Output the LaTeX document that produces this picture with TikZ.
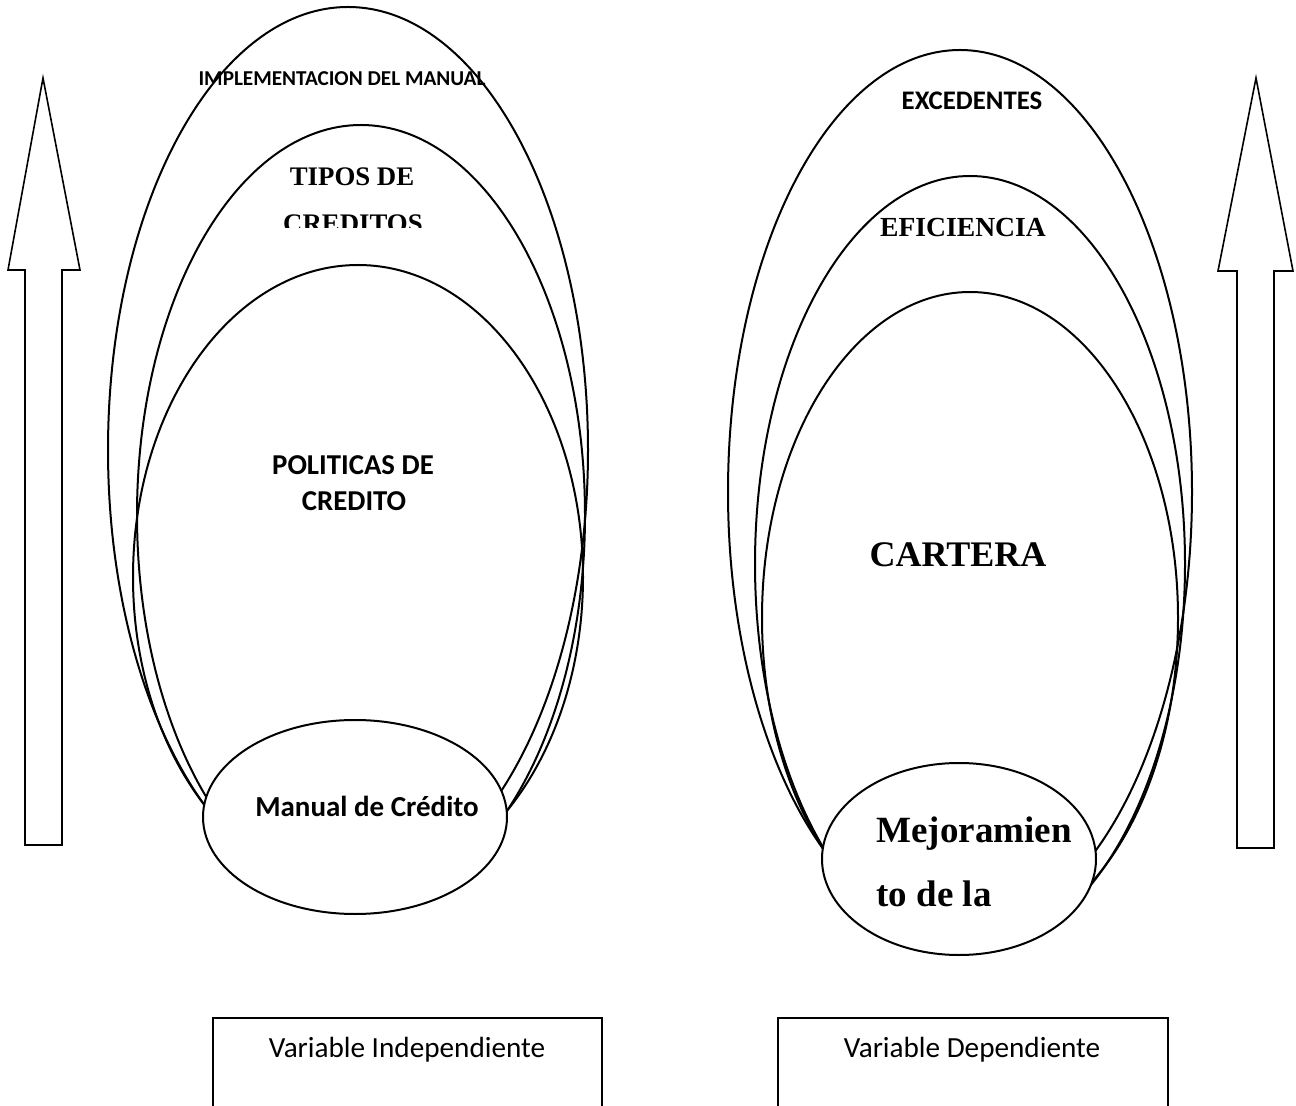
\documentclass[tikz,border=0pt]{standalone}
\usepackage{fontspec}
\setmainfont{Liberation Serif}
\newfontfamily\carl{Carlito}
\usetikzlibrary{shapes.geometric}
\begin{document}
\begin{tikzpicture}[x=0.5pt,y=-0.5pt,
  oval/.style={draw=black, line width=1pt, ellipse, inner sep=0pt, outer sep=0pt},
  core/.style={oval, fill=white},
  bigarrow/.style={draw=black, line width=0.8pt, fill=white, line join=miter},
  varbox/.style={draw=black, line width=0.9pt, rectangle, inner sep=0pt, fill=white},
  sanslbl/.style={font=\carl\bfseries, anchor=base, inner sep=0pt},
  seriflbl/.style={font=\bfseries, anchor=base, inner sep=0pt}
]
\useasboundingbox (0,0) rectangle (1296,1106);
\clip (0,0) rectangle (1296,1106);

% left arrow
\draw[bigarrow] (43,78) -- (80,270) -- (62,270) -- (62,845) -- (25,845) -- (25,270) -- (8,270) -- cycle;
% right arrow
\draw[bigarrow] (1256,78) -- (1293,271) -- (1274,271) -- (1274,848) -- (1237,848) -- (1237,271) -- (1218,271) -- cycle;

% left ellipses
\node[oval, minimum width=240pt, minimum height=443pt] (impl) at (348,450) {};
\node[oval, minimum width=224pt, minimum height=390pt] (tipos) at (361,515) {};
\node[oval, minimum width=225pt, minimum height=312pt] (pol) at (358,577) {};
\node[core, minimum width=152pt, minimum height=97pt] (manual) at (355,817) {};

% right ellipses
\node[oval, minimum width=232pt, minimum height=442pt] (exc) at (960,492) {};
\node[oval, minimum width=215pt, minimum height=388pt] (efi) at (970,564) {};
\node[oval, minimum width=208pt, minimum height=326pt] (cart) at (970,618) {};
\node[core, minimum width=137pt, minimum height=96pt] (mejor) at (959,859) {};

% left labels
\node[sanslbl, font=\carl\bfseries\fontsize{10.6}{12}\selectfont] (timpl) at (342,86) {IMPLEMENTACION DEL MANUAL};
\node[seriflbl, font=\bfseries\fontsize{13.4}{16}\selectfont] (ttipos1) at (352,186) {TIPOS DE};
\begin{scope}
\clip (0,0) rectangle (1296,228);
\node[seriflbl, font=\bfseries\fontsize{13.4}{16}\selectfont] (ttipos2) at (353,233) {CREDITOS};
\end{scope}
\node[sanslbl, font=\carl\bfseries\fontsize{14.4}{16}\selectfont] (tpol1) at (353,475) {POLITICAS DE};
\node[sanslbl, font=\carl\bfseries\fontsize{14.4}{16}\selectfont] (tpol2) at (354,511) {CREDITO};
\node[sanslbl, font=\carl\bfseries\fontsize{14.5}{17}\selectfont] (tman) at (367,816) {Manual de Crédito};

% right labels
\node[sanslbl, font=\carl\bfseries\fontsize{13.4}{15}\selectfont] (texc) at (972,110) {EXCEDENTES};
\node[seriflbl, font=\bfseries\fontsize{13.8}{16}\selectfont] (tefi) at (963,237) {EFICIENCIA};
\node[seriflbl, font=\bfseries\fontsize{18}{21}\selectfont] (tcart) at (958,567) {CARTERA};
\node[seriflbl, font=\bfseries\fontsize{18.5}{22}\selectfont, anchor=base west] (tmej1) at (876,842) {Mejoramien};
\node[seriflbl, font=\bfseries\fontsize{18.5}{22}\selectfont, anchor=base west] (tmej2) at (876,906) {to de la};

% variable boxes
\node[varbox, minimum width=194.5pt, minimum height=60pt, anchor=north west] (vind) at (212,1017) {};
\node[varbox, minimum width=195pt, minimum height=60pt, anchor=north west] (vdep) at (777,1017) {};
\node[font=\carl\fontsize{14.6}{18}\selectfont, anchor=base, inner sep=0pt] (tvind) at (407,1057) {Variable Independiente};
\node[font=\carl\fontsize{14.6}{18}\selectfont, anchor=base, inner sep=0pt] (tvdep) at (972,1057) {Variable Dependiente};
\end{tikzpicture}
\end{document}
